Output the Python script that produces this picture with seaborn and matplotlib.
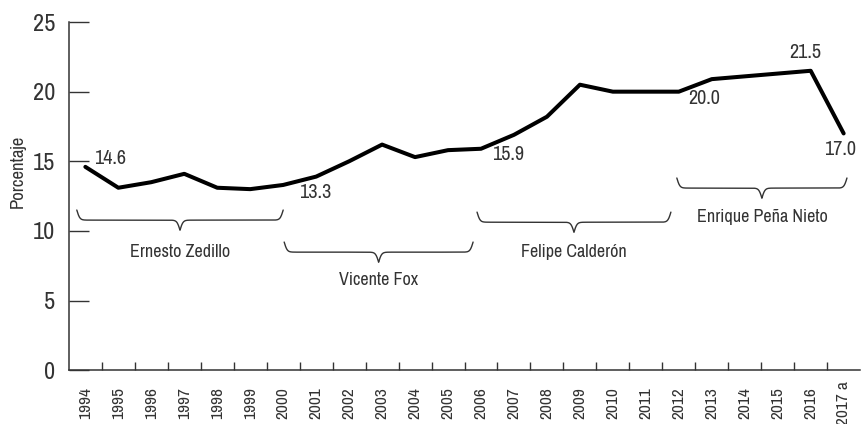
import numpy as np
import pandas as pd
import matplotlib
matplotlib.use('Agg')
import matplotlib.pyplot as plt
from matplotlib import font_manager
import seaborn as sns

years = ['1994', '1995', '1996', '1997', '1998', '1999', '2000', '2001', '2002', '2003',
         '2004', '2005', '2006', '2007', '2008', '2009', '2010', '2011', '2012', '2013',
         '2014', '2015', '2016', '2017 a']
values = [14.6, 13.1, 13.5, 14.1, 13.1, 13.0, 13.3, 13.9, 15.0, 16.2,
          15.3, 15.8, 15.9, 16.9, 18.2, 20.5, 20.0, 20.0, 20.0, 20.9,
          21.1, 21.3, 21.5, 17.0]

# labelled points: index, offset in pixels (dx, dy), horizontal alignment
label_idx = [0, 6, 12, 18, 22, 23]
label_off = [(9, 8), (16, -8), (11, -6), (9, -6.5), (-5, 18), (-4, -16)]
label_ha = ['left', 'left', 'left', 'left', 'center', 'center']

# presidential terms: name, start, end (x units), top of brace, label y
terms = ['Ernesto Zedillo', 'Vicente Fox', 'Felipe Calderón', 'Enrique Peña Nieto']
term_start = [-0.26, 6.03, 11.88, 17.94]
term_end = [6.0, 11.76, 17.76, 23.1]
term_top = [11.5, 9.2, 11.35, 13.8]
term_label_y = [8.5, 6.45, 8.5, 11.0]

df = pd.DataFrame({'pos': np.arange(len(years)), 'valor': values})

sns.set_style('white')

# pick a narrow / condensed face if one is around
fam, stretch, scale = 'Liberation Sans', 'normal', 0.88
names = {f.name for f in font_manager.fontManager.ttflist}
cond = [f for f in font_manager.fontManager.ttflist
        if f.stretch in ('condensed', 'semi-condensed', 'extra-condensed', 'ultra-condensed')]
if 'Liberation Sans Narrow' in names:
    fam, scale = 'Liberation Sans Narrow', 1.0
elif any('Condensed' in n or 'Narrow' in n for n in names):
    fam = sorted(n for n in names if 'Condensed' in n or 'Narrow' in n)[0]
    scale = 1.0
elif cond:
    fam, stretch, scale = cond[0].name, cond[0].stretch, 0.92
plt.rcParams['font.family'] = [fam, 'DejaVu Sans']
plt.rcParams['font.stretch'] = stretch
txt = '#333333'

fig = plt.figure(figsize=(8.61, 4.24), dpi=100)
ax = fig.add_axes([0.080, 0.127, 0.919, 0.821])

sns.lineplot(data=df, x='pos', y='valor', color='black', linewidth=2.9, ax=ax)

for i, off, ha in zip(label_idx, label_off, label_ha):
    ax.annotate(f'{values[i]:.1f}', xy=(i, values[i]), xytext=off,
                textcoords='offset pixels', ha=ha, va='center',
                fontsize=14.5 * scale, color=txt)


def brace(x0, x1, ytop, h=1.45, beta=22):
    n = 200
    xh = np.linspace(x0, (x0 + x1) / 2, n)
    yh = 1 / (1 + np.exp(-beta * (xh - xh[0]))) + 1 / (1 + np.exp(-beta * (xh - xh[-1])))
    xs = np.concatenate([xh, x1 - (xh - x0)[::-1]])
    ys = np.concatenate([yh, yh[::-1]])
    ys = ytop - (ys - 0.5) * h
    ax.plot(xs, ys, color='#333333', lw=1.0)


for name, s, e, top, ly in zip(terms, term_start, term_end, term_top, term_label_y):
    brace(s, e, top)
    ax.text((s + e) / 2, ly, name, ha='center', va='center', fontsize=13 * scale, color=txt)

ax.set_xlim(-0.5, len(years) - 0.5)
ax.set_ylim(0, 25)
ax.set_yticks([0, 5, 10, 15, 20, 25])
ax.set_xticks(np.arange(len(years)))
ax.set_xticklabels(years, rotation=90, fontsize=12.5 * scale, color=txt, va='center')
ax.set_xticks(np.arange(len(years) - 1) + 0.5, minor=True)
ax.tick_params(axis='x', which='major', bottom=True, length=0, pad=23.5)
ax.tick_params(axis='x', which='minor', bottom=True, direction='in', length=6,
               width=1.0, color='#333333')
ax.tick_params(axis='y', left=True, direction='in', length=14.5, width=1.0, color='#333333',
               labelsize=17.5 * scale, labelcolor=txt, pad=10)
ax.set_xlabel('')
ax.set_ylabel('Porcentaje', fontsize=13.5 * scale, color=txt)
ax.yaxis.set_label_coords(-0.055, 0.57)

sns.despine(ax=ax)
for sp in ['left', 'bottom']:
    ax.spines[sp].set_color('#333333')
    ax.spines[sp].set_linewidth(1.1)

fig.savefig('out.png', dpi=100)
